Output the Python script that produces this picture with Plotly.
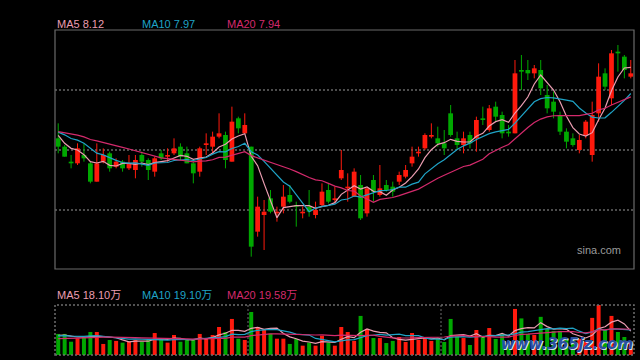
import plotly.graph_objects as go
import pandas as pd

# ---- data (prices in CNY, volume in 万 shares) ----
opens = [7.69, 7.64, 7.55, 7.54, 7.59, 7.54, 7.43, 7.55, 7.60, 7.52,
         7.55, 7.51, 7.50, 7.59, 7.56, 7.49, 7.60, 7.58, 7.60, 7.64,
         7.60, 7.54, 7.49, 7.65, 7.64, 7.70, 7.71, 7.55, 7.81, 7.72,
         7.64, 7.13, 7.23, 7.33, 7.24, 7.28, 7.35, 7.29, 7.24, 7.28,
         7.23, 7.29, 7.38, 7.32, 7.45, 7.39, 7.34, 7.41, 7.24, 7.44,
         7.35, 7.41, 7.40, 7.43, 7.46, 7.54, 7.60, 7.63, 7.70, 7.69,
         7.66, 7.84, 7.69, 7.65, 7.71, 7.69, 7.81, 7.74, 7.88, 7.83,
         7.73, 7.72, 8.10, 8.10, 8.08, 8.10, 7.95, 7.91, 7.83, 7.73,
         7.69, 7.62, 7.71, 7.59, 7.84, 8.08, 7.93, 8.21, 8.18, 8.06]
highs = [7.78, 7.65, 7.59, 7.66, 7.66, 7.55, 7.66, 7.63, 7.61, 7.57,
         7.56, 7.59, 7.59, 7.61, 7.57, 7.58, 7.62, 7.63, 7.69, 7.66,
         7.64, 7.55, 7.64, 7.72, 7.73, 7.84, 7.73, 7.88, 7.82, 7.84,
         7.64, 7.34, 7.32, 7.38, 7.28, 7.41, 7.41, 7.31, 7.28, 7.38,
         7.31, 7.42, 7.42, 7.40, 7.62, 7.48, 7.51, 7.47, 7.39, 7.47,
         7.53, 7.44, 7.43, 7.49, 7.53, 7.64, 7.64, 7.72, 7.78, 7.76,
         7.74, 7.89, 7.73, 7.73, 7.73, 7.82, 7.88, 7.89, 7.91, 7.85,
         7.77, 8.16, 8.19, 8.16, 8.13, 8.16, 8.01, 7.97, 7.85, 7.75,
         7.72, 7.71, 7.80, 7.91, 8.14, 8.11, 8.22, 8.25, 8.19, 8.16]
lows = [7.60, 7.58, 7.51, 7.53, 7.55, 7.42, 7.43, 7.54, 7.49, 7.51,
        7.49, 7.50, 7.45, 7.52, 7.44, 7.46, 7.56, 7.55, 7.59, 7.56,
        7.54, 7.42, 7.46, 7.59, 7.60, 7.69, 7.51, 7.55, 7.72, 7.72,
        6.98, 7.10, 7.02, 7.24, 7.19, 7.24, 7.30, 7.16, 7.21, 7.22,
        7.21, 7.28, 7.30, 7.30, 7.44, 7.31, 7.34, 7.20, 7.22, 7.31,
        7.34, 7.37, 7.34, 7.41, 7.45, 7.52, 7.58, 7.62, 7.69, 7.64,
        7.59, 7.70, 7.62, 7.60, 7.63, 7.61, 7.77, 7.73, 7.79, 7.69,
        7.70, 7.72, 7.98, 8.04, 8.05, 7.95, 7.84, 7.81, 7.71, 7.63,
        7.64, 7.60, 7.69, 7.55, 7.79, 7.98, 7.89, 8.09, 8.05, 8.05]
closes = [7.64, 7.58, 7.54, 7.63, 7.57, 7.43, 7.54, 7.59, 7.51, 7.55,
          7.51, 7.54, 7.56, 7.55, 7.50, 7.57, 7.57, 7.59, 7.63, 7.58,
          7.54, 7.48, 7.63, 7.66, 7.70, 7.72, 7.56, 7.79, 7.75, 7.77,
          7.04, 7.28, 7.25, 7.25, 7.25, 7.34, 7.31, 7.28, 7.25, 7.25,
          7.26, 7.37, 7.31, 7.33, 7.50, 7.40, 7.49, 7.21, 7.39, 7.37,
          7.39, 7.38, 7.37, 7.47, 7.50, 7.58, 7.61, 7.71, 7.71, 7.66,
          7.63, 7.71, 7.65, 7.69, 7.66, 7.80, 7.80, 7.87, 7.82, 7.72,
          7.72, 8.08, 8.09, 8.08, 8.11, 7.99, 7.87, 7.85, 7.73, 7.67,
          7.65, 7.68, 7.79, 7.83, 8.06, 8.00, 8.20, 8.20, 8.10, 8.08]
volumes = [16.0, 16.0, 10.1, 12.7, 13.5, 17.5, 17.5, 8.4, 11.4, 10.7,
           9.4, 10.1, 11.4, 10.1, 11.4, 16.7, 11.9, 9.4, 15.2, 10.1,
           11.4, 11.4, 16.0, 12.7, 15.2, 21.3, 17.5, 27.4, 12.4, 11.4,
           32.7, 21.3, 19.6, 16.2, 12.4, 12.4, 8.4, 12.2, 7.1, 9.4,
           7.1, 14.7, 9.4, 7.1, 21.3, 17.5, 10.7, 29.7, 19.8, 12.9,
           12.9, 9.1, 10.7, 13.7, 9.9, 16.7, 11.4, 12.9, 10.7, 12.9,
           9.9, 27.4, 14.2, 12.9, 7.6, 19.0, 14.2, 20.5, 12.2, 16.0,
           9.1, 35.0, 27.8, 16.0, 15.2, 29.0, 19.8, 18.3, 18.3, 12.2,
           12.2, 12.2, 9.9, 28.2, 38.0, 19.0, 29.7, 17.5, 13.7, 10.6]
# closes / volumes of the 19 sessions before the visible window (estimated from MA lines)
prior_closes = [7.70, 7.75, 7.72, 7.78, 7.74, 7.71, 7.76, 7.73, 7.72, 7.72,
                7.74, 7.76, 7.73, 7.75, 7.75, 7.82, 7.69, 7.68, 7.71]
prior_volumes = [10.2, 11.5, 9.8, 10.6, 12.0, 9.5, 10.8, 10.1, 9.9, 10.6,
                 13.2, 15.1, 14.0, 12.8, 14.9, 15.3, 13.9, 16.2, 13.6]
ma_periods = [5, 10, 20]
ma_price_labels = ["MA5 8.12", "MA10 7.97", "MA20 7.94"]
ma_vol_labels = ["MA5 18.10万", "MA10 19.10万", "MA20 19.58万"]

# ---- styling ----
RED = "#ff1a0d"
GREEN = "#00a800"
MA_COLORS = ["#eb9db1", "#1fa3c6", "#d42a6c"]
W, H = 640, 360
PX_L, PX_R = 55, 634
MAIN_T, MAIN_B = 30, 269
VOL_T, VOL_B = 305, 355

n = len(closes)
idx = list(range(n))
up = [c >= o for o, c in zip(opens, closes)]
colors = [RED if u else GREEN for u in up]

full_c = pd.Series(prior_closes + closes)
full_v = pd.Series(prior_volumes + volumes)
k = len(prior_closes)
ma_price = [full_c.rolling(p).mean().iloc[k:].tolist() for p in ma_periods]
ma_vol = [full_v.rolling(p).mean().iloc[k:].tolist() for p in ma_periods]

fig = go.Figure()

# wicks
for col, flag in ((RED, True), (GREEN, False)):
    xs, ys = [], []
    for i in idx:
        if up[i] == flag:
            xs += [i, i, None]
            ys += [lows[i], highs[i], None]
    fig.add_trace(go.Scatter(x=xs, y=ys, mode="lines", line=dict(color=col, width=1),
                             hoverinfo="skip", xaxis="x", yaxis="y"))

# bodies
min_body = 0.007
body_base = [min(o, c) for o, c in zip(opens, closes)]
body_h = [max(abs(c - o), min_body) for o, c in zip(opens, closes)]
fig.add_trace(go.Bar(x=idx, y=body_h, base=body_base, width=0.74,
                     marker=dict(color=colors, line=dict(width=0)),
                     xaxis="x", yaxis="y"))

for s, col in zip(ma_price, MA_COLORS):
    fig.add_trace(go.Scatter(x=idx, y=s, mode="lines", line=dict(color=col, width=1.2),
                             xaxis="x", yaxis="y"))

# volume
fig.add_trace(go.Bar(x=idx, y=volumes, width=0.62,
                     marker=dict(color=colors, line=dict(width=0)),
                     xaxis="x2", yaxis="y2"))
for s, col in zip(ma_vol, MA_COLORS):
    fig.add_trace(go.Scatter(x=idx, y=s, mode="lines", line=dict(color=col, width=1.2),
                             xaxis="x2", yaxis="y2"))

xd = [PX_L / W, PX_R / W]
fig.update_layout(
    width=W, height=H, margin=dict(l=0, r=0, t=0, b=0),
    paper_bgcolor="#000000", plot_bgcolor="#000000", showlegend=False,
    font=dict(family="Liberation Sans, Arial, Noto Sans CJK SC", size=11),
    xaxis=dict(domain=xd, range=[-0.5, n - 0.5], showgrid=False, zeroline=False,
               showticklabels=False, ticks="", anchor="y"),
    yaxis=dict(domain=[1 - MAIN_B / H, 1 - MAIN_T / H], range=[6.906, 8.34],
               tickvals=[7.26, 7.62, 7.98], showticklabels=False, ticks="",
               showgrid=True, gridcolor="#4d4d4d", griddash="2px,2px", gridwidth=1.5,
               zeroline=False, anchor="x"),
    xaxis2=dict(domain=xd, range=[-0.5, n - 0.5], showgrid=False, zeroline=False,
                showticklabels=False, ticks="", anchor="y2", matches="x"),
    yaxis2=dict(domain=[1 - VOL_B / H, 1 - VOL_T / H], range=[0, max(volumes)],
                showgrid=False, zeroline=False, showticklabels=False, ticks="", anchor="x2"),
)

shapes = [
    dict(type="rect", xref="paper", yref="paper", x0=xd[0], x1=xd[1],
         y0=1 - MAIN_B / H, y1=1 - MAIN_T / H, line=dict(color="#6a6a6a", width=1.2)),
    dict(type="rect", xref="paper", yref="paper", x0=xd[0], x1=xd[1],
         y0=1 - VOL_B / H, y1=1 - VOL_T / H, line=dict(color="#6e6e6e", width=1.5, dash="2px,2px")),
]
for xb in (29.5, 59.5):
    shapes.append(dict(type="line", xref="x2", yref="paper", x0=xb, x1=xb,
                       y0=1 - VOL_B / H, y1=1 - VOL_T / H,
                       line=dict(color="#6e6e6e", width=1, dash="2px,2px")))
fig.update_layout(shapes=shapes)

ann = []
label_x = [55, 140, 225]
for lbl, col, xp in zip(ma_price_labels, MA_COLORS, label_x):
    ann.append(dict(text=lbl, x=xp / W, y=1 - 24 / H, xref="paper", yref="paper",
                    xanchor="left", yanchor="middle", showarrow=False,
                    font=dict(color=col, size=11)))
for lbl, col, xp in zip(ma_vol_labels, MA_COLORS, label_x):
    ann.append(dict(text=lbl, x=xp / W, y=1 - 295 / H, xref="paper", yref="paper",
                    xanchor="left", yanchor="middle", showarrow=False,
                    font=dict(color=col, size=11)))
ann.append(dict(text="sina.com", x=623 / W, y=1 - 250 / H, xref="paper", yref="paper",
                xanchor="right", yanchor="middle", showarrow=False,
                font=dict(color="#9a9a9a", size=11)))
ann.append(dict(text="<b><i>www.365jz.com</i></b>", x=636 / W, y=1 - 345 / H,
                xref="paper", yref="paper", xanchor="right", yanchor="middle",
                showarrow=False, font=dict(color="#d8e0f0", size=15, family="DejaVu Sans")))
ann.append(dict(text="<b><i>www.365jz.com</i></b>", x=635 / W, y=1 - 344 / H,
                xref="paper", yref="paper", xanchor="right", yanchor="middle",
                showarrow=False, font=dict(color="#2b4f9e", size=15, family="DejaVu Sans")))
fig.update_layout(annotations=ann)

fig.write_html("out.html", config={"displayModeBar": False, "staticPlot": True},
               post_script="document.body.style.margin='0px';document.body.style.overflow='hidden';")
